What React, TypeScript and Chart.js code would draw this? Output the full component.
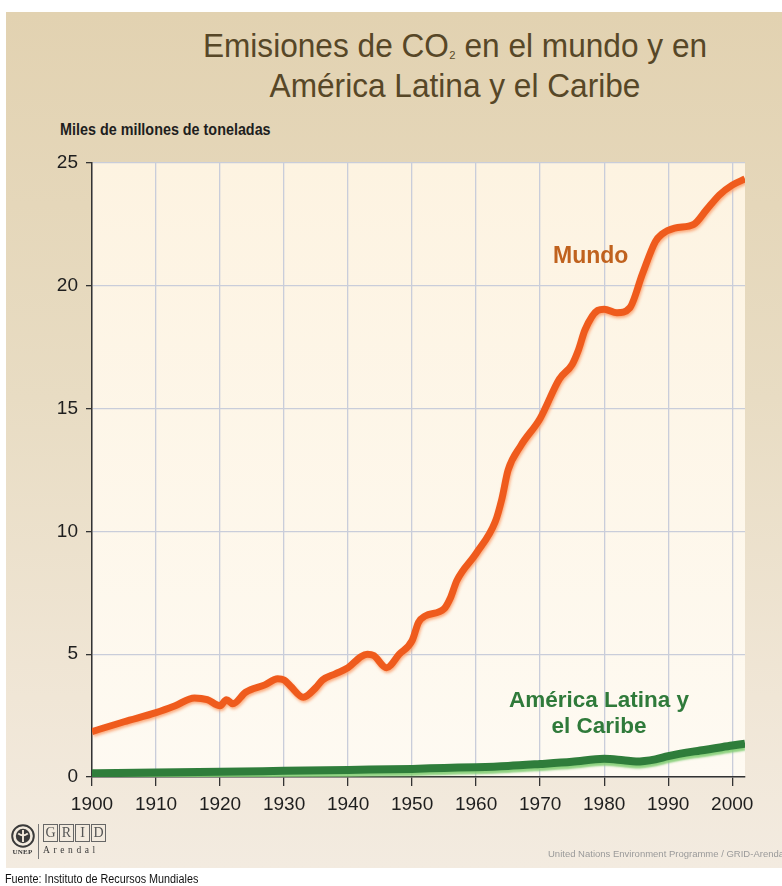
import React, { useEffect, useRef } from "react";
import { Chart, registerables } from "chart.js";

Chart.register(...registerables);

// World CO2 emissions (billions of tonnes)
const mundoYears = [
  1900, 1905, 1910, 1913, 1916, 1918, 1920, 1921, 1922, 1924, 1927, 1929, 1930, 1931,
  1933, 1935, 1936, 1938, 1940, 1942, 1943, 1944, 1946, 1948, 1950, 1951, 1952, 1955,
  1956, 1957, 1960, 1963, 1964, 1965, 1967, 1970, 1973, 1975, 1976, 1977, 1979, 1980,
  1982, 1984, 1986, 1988, 1989, 1991, 1994, 1996, 1998, 2000, 2002,
];
const mundoValues = [
  1.85, 2.25, 2.62, 2.9, 3.22, 3.15, 2.9, 3.15, 2.98, 3.45, 3.75, 4.0, 3.95, 3.7,
  3.25, 3.65, 3.95, 4.2, 4.45, 4.9, 5.0, 4.95, 4.45, 5.0, 5.55, 6.3, 6.55, 6.85,
  7.3, 8.0, 9.1, 10.4, 11.3, 12.5, 13.5, 14.6, 16.2, 16.8, 17.4, 18.2, 19.0, 19.05,
  18.9, 19.1, 20.5, 21.8, 22.1, 22.35, 22.5, 23.1, 23.7, 24.1, 24.35,
];

// Latin America and the Caribbean
const alcYears = [
  1900, 1910, 1920, 1930, 1940, 1950, 1955, 1960, 1965, 1970, 1975, 1980, 1983, 1985,
  1988, 1990, 1995, 2000, 2002,
];
const alcValues = [
  0.15, 0.18, 0.21, 0.25, 0.29, 0.33, 0.37, 0.4, 0.45, 0.53, 0.62, 0.74, 0.68, 0.63,
  0.72, 0.85, 1.08, 1.28, 1.36,
];

const titleLines = ["Emisiones de CO", "₂", " en el mundo y en", "América Latina y el Caribe"];
const yAxisTitle = "Miles de millones de toneladas";
const seriesLabels = ["Mundo", "América Latina y", "el Caribe"];
const sourceText = "Fuente: Instituto de Recursos Mundiales";
const creditText = "United Nations Environment Programme / GRID-Arendal";

const FONT = '"Liberation Sans", Arial, sans-serif';

const shadows: Record<number, { color: string; x: number; y: number; blur: number }> = {
  0: { color: "rgba(250,160,110,0.85)", x: 1, y: 2, blur: 3 },
  1: { color: "rgba(130,205,115,0.9)", x: 0, y: 3, blur: 2 },
};

const plotBackground = {
  id: "plotBackground",
  beforeDraw(chart: any) {
    const { ctx, chartArea: a } = chart;
    const g = ctx.createLinearGradient(0, a.top, 0, a.bottom);
    g.addColorStop(0, "#fdf3e1");
    g.addColorStop(1, "#fefaf2");
    ctx.save();
    ctx.fillStyle = g;
    ctx.fillRect(a.left, a.top, a.right - a.left, a.bottom - a.top);
    ctx.restore();
  },
};

const lineShadow = {
  id: "lineShadow",
  beforeDatasetDraw(chart: any, args: any) {
    const s = shadows[args.index];
    const ctx = chart.ctx;
    ctx.save();
    if (s) {
      ctx.shadowColor = s.color;
      ctx.shadowOffsetX = s.x;
      ctx.shadowOffsetY = s.y;
      ctx.shadowBlur = s.blur;
    }
  },
  afterDatasetDraw(chart: any) {
    chart.ctx.restore();
  },
};

const seriesNames = {
  id: "seriesNames",
  afterDatasetsDraw(chart: any) {
    const { ctx, scales } = chart;
    const x = scales.x;
    const y = scales.y;
    ctx.save();
    ctx.textAlign = "center";
    ctx.textBaseline = "middle";
    ctx.font = `bold 23px ${FONT}`;
    ctx.fillStyle = "#c0621e";
    ctx.fillText(seriesLabels[0], x.getPixelForValue(1977.9), y.getPixelForValue(21.2));
    ctx.font = `bold 22.5px ${FONT}`;
    ctx.fillStyle = "#2f7a3a";
    ctx.fillText(seriesLabels[1], x.getPixelForValue(1979.2), y.getPixelForValue(3.1));
    ctx.fillText(seriesLabels[2], x.getPixelForValue(1979.2), y.getPixelForValue(2.05));
    ctx.restore();
  },
};

function EmissionsChart() {
  const ref = useRef<HTMLCanvasElement | null>(null);
  useEffect(() => {
    if (!ref.current) return;
    const chart = new Chart(ref.current, {
      type: "line",
      data: {
        datasets: [
          {
            label: seriesLabels[0],
            data: mundoYears.map((yr, i) => ({ x: yr, y: mundoValues[i] })),
            borderColor: "#ef5b1d",
            borderWidth: 7,
            pointRadius: 0,
            tension: 0.4,
            cubicInterpolationMode: "monotone",
            fill: false,
          },
          {
            label: seriesLabels[1] + " " + seriesLabels[2],
            data: alcYears.map((yr, i) => ({ x: yr, y: alcValues[i] })),
            borderColor: "#2f7d3b",
            borderWidth: 8,
            pointRadius: 0,
            tension: 0.4,
            cubicInterpolationMode: "monotone",
            fill: false,
          },
        ],
      },
      options: {
        responsive: false,
        animation: false,
        devicePixelRatio: 1,
        layout: { padding: { top: 163, right: 37, bottom: 49, left: 0 } },
        plugins: { legend: { display: false }, tooltip: { enabled: false } },
        scales: {
          x: {
            type: "linear",
            min: 1900,
            max: 2002,
            afterFit: (s: any) => {
              s.height = 60;
            },
            ticks: {
              stepSize: 10,
              includeBounds: false,
              padding: 7,
              color: "#1e1e1e",
              font: { family: FONT, size: 19 },
              callback: (v: any) => String(v),
            },
            grid: { color: "#c9cdda", lineWidth: 1.3, tickLength: 9, tickColor: "#333", tickWidth: 1.3 },
            border: { display: true, color: "#333", width: 1.5 },
          },
          y: {
            min: 0,
            max: 25,
            afterFit: (s: any) => {
              s.width = 92;
            },
            ticks: {
              stepSize: 5,
              padding: 8,
              color: "#1e1e1e",
              font: { family: FONT, size: 19 },
            },
            grid: { color: "#c9cdda", lineWidth: 1.3, tickLength: 6, tickColor: "#333", tickWidth: 1.3 },
            border: { display: true, color: "#333", width: 1.5 },
          },
        },
      },
      plugins: [plotBackground, lineShadow, seriesNames],
    });
    return () => chart.destroy();
  }, []);
  return (
    <canvas
      ref={ref}
      width={782}
      height={886}
      style={{ position: "absolute", left: 0, top: 0, width: 782, height: 886 }}
    />
  );
}

function Logos() {
  return (
    <div style={{ position: "absolute", left: 9, top: 824, height: 36, display: "flex", alignItems: "flex-start" }}>
      <div style={{ width: 27, display: "flex", flexDirection: "column", alignItems: "center" }}>
        <svg width="24" height="24" viewBox="0 0 20 20">
          <circle cx="10" cy="10" r="9" fill="none" stroke="#3a3a3a" strokeWidth="1.6" />
          <circle cx="10" cy="10" r="6" fill="#3a3a3a" />
          <path d="M10 5 L10 15 M6 8 Q10 11 14 8" stroke="#f1e8da" strokeWidth="1.6" fill="none" />
        </svg>
        <div style={{ fontFamily: '"Liberation Serif", serif', fontSize: 7, fontWeight: "bold", color: "#3a3a3a", marginTop: 0, letterSpacing: 0.2 }}>
          UNEP
        </div>
      </div>
      <div style={{ width: 1, height: 35, background: "#777", margin: "0 4px 0 2px" }} />
      <div style={{ display: "flex", flexDirection: "column" }}>
        <div style={{ display: "flex", gap: 1 }}>
          {["G", "R", "I", "D"].map((c) => (
            <span
              key={c}
              style={{
                border: "1px solid #666",
                width: 13,
                height: 16,
                lineHeight: "16px",
                textAlign: "center",
                fontFamily: '"Liberation Serif", serif',
                fontSize: 14,
                color: "#555",
              }}
            >
              {c}
            </span>
          ))}
        </div>
        <div style={{ fontFamily: '"Liberation Serif", serif', fontSize: 9.5, color: "#3a3a3a", letterSpacing: 3.6, marginTop: 3 }}>
          Arendal
        </div>
      </div>
    </div>
  );
}

export default function App() {
  useEffect(() => {
    document.body.style.margin = "0";
  }, []);
  return (
    <div style={{ position: "relative", width: 782, height: 886, overflow: "hidden", background: "#fff", fontFamily: FONT }}>
      <div
        style={{
          position: "absolute",
          left: 6,
          top: 12,
          width: 776,
          height: 856,
          background: "linear-gradient(to bottom, #e2d2b1 0%, #e8dcc3 45%, #f0e6d6 80%, #f3ebe0 100%)",
        }}
      />
      <div
        style={{
          position: "absolute",
          left: 155,
          top: 28,
          width: 600,
          textAlign: "center",
          fontSize: 34,
          lineHeight: "35px",
          color: "#574727",
          transform: "scaleX(0.93)",
          transformOrigin: "300px 0",
        }}
      >
        <div>
          {titleLines[0]}
          <span style={{ fontSize: "0.55em" }}>{titleLines[1]}</span>
          {titleLines[2]}
        </div>
        <div>{titleLines[3]}</div>
      </div>
      <div
        style={{
          position: "absolute",
          left: 60,
          top: 120,
          fontWeight: "bold",
          fontSize: 16.5,
          color: "#1e1e1e",
          whiteSpace: "nowrap",
          transform: "scaleX(0.87)",
          transformOrigin: "0 0",
        }}
      >
        {yAxisTitle}
      </div>
      <EmissionsChart />
      <Logos />
      <div
        style={{
          position: "absolute",
          left: 548,
          top: 848,
          fontSize: 9.5,
          color: "#9a9a9a",
          whiteSpace: "nowrap",
        }}
      >
        {creditText}
      </div>
      <div
        style={{
          position: "absolute",
          left: 5,
          top: 872,
          fontSize: 12,
          color: "#111",
          whiteSpace: "nowrap",
          transform: "scaleX(0.9)",
          transformOrigin: "0 0",
        }}
      >
        {sourceText}
      </div>
    </div>
  );
}
